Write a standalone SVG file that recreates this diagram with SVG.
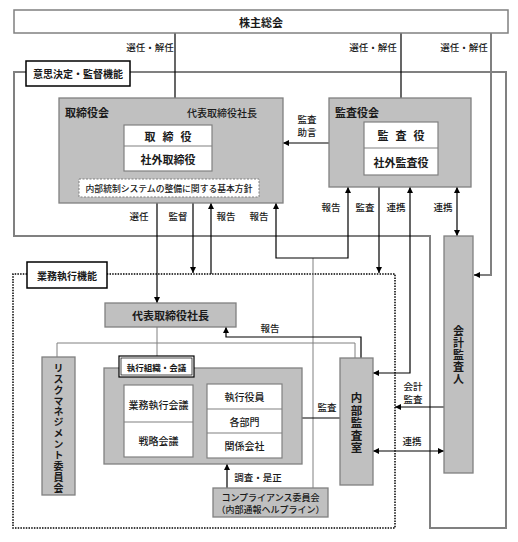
<svg xmlns="http://www.w3.org/2000/svg" width="518" height="542" viewBox="0 0 518 542">
<defs>
<marker id="a" viewBox="0 0 6 6" refX="6" refY="3" markerWidth="6" markerHeight="6" markerUnits="userSpaceOnUse" orient="auto-start-reverse"><path d="M0,0 L6,3 L0,6 z" fill="#000"/></marker>
<style>
text{font-family:"Noto Sans CJK JP","Noto Sans",sans-serif;fill:#1a1a1a;text-anchor:middle;dominant-baseline:central}
.b{font-weight:bold}
.v{writing-mode:vertical-rl;text-orientation:upright}
.lb{font-size:9.5px;font-weight:500}
.g{fill:#c0c0c0;stroke:#808080;stroke-width:1.3}
.w{fill:#fff;stroke:#808080;stroke-width:1.2}
.k{fill:#fff;stroke:#000;stroke-width:1.5}
.c{fill:none;stroke:#000;stroke-width:1.2}
.e{marker-end:url(#a)}
.s{marker-start:url(#a)}
.t{fill:none;stroke:#808080;stroke-width:1}
</style>
</defs>
<rect width="518" height="542" fill="#fff"/>
<g id="frames">
<path d="M26,72 H14 V236 H430 V528 H506 V72 H130" fill="none" stroke="#808080" stroke-width="2"/>
<path d="M27,274 H13 V528 H395 V274 H107" fill="none" stroke="#000" stroke-width="1.5" stroke-dasharray="1.5 1.2"/>
</g>
<g id="connectors">
<path class="c e" d="M175,33 V122"/>
<path class="c e" d="M401,33 V121"/>
<path d="M491,33 V275 H478" fill="none" stroke="#808080" stroke-width="2"/>
<path class="c e" d="M480,275 H474"/>
<path class="c e" d="M329,143 H283"/>
<path class="c e" d="M157,203 V303"/>
<path class="c e" d="M193,203 V273"/>
<path class="c e" d="M211,274 V203"/>
<path class="t" d="M313,488 V258"/>
<path class="c e s" d="M276,203 V258 H348 V187"/>
<path class="c e" d="M379,187 V273"/>
<path class="c e s" d="M410,187 V373 H373"/>
<path class="c e s" d="M457,187 V236"/>
<path class="t" d="M57,357 V343 H355 V358"/>
<path class="t" d="M157,327 V356"/>
<path class="c e" d="M361,358 V337 H226 V327" stroke-width="1"/>
<path class="c e" d="M340,418 H282"/>
<path class="c e" d="M227,488 V464"/>
<path class="c e" d="M444,407 H395"/>
<path class="c e s" d="M373,451 H444"/>
</g>
<g id="labels">
<text class="lb" x="150" y="47">選任・解任</text>
<text class="lb" x="373" y="47">選任・解任</text>
<text class="lb" x="464" y="47">選任・解任</text>
<text class="lb"><tspan x="307" y="119">監査</tspan><tspan x="307" y="132">助言</tspan></text>
<text class="lb" x="139" y="216">選任</text>
<text class="lb" x="178" y="216">監督</text>
<text class="lb" x="226" y="216">報告</text>
<text class="lb" x="259" y="216">報告</text>
<text class="lb" x="331" y="207">報告</text>
<text class="lb" x="365" y="207">監査</text>
<text class="lb" x="396" y="207">連携</text>
<text class="lb" x="443" y="207">連携</text>
<text class="lb" x="270" y="328">報告</text>
<text class="lb" x="327" y="407">監査</text>
<text class="lb"><tspan x="413" y="385.5">会計</tspan><tspan x="413" y="398.5">監査</tspan></text>
<text class="lb" x="412" y="441">連携</text>
<text class="lb" x="258" y="477">調査・是正</text>
</g>
<g id="shareholders">
<rect x="14" y="10" width="494" height="23" fill="#fff" stroke="#808080" stroke-width="1.5"/>
<text class="b" x="261" y="21.5" font-size="11">株主総会</text>
</g>
<g id="decision-label">
<rect class="k" x="26" y="61" width="104" height="25"/>
<text class="b" x="78" y="73.5" font-size="10">意思決定・監督機能</text>
</g>
<g id="board">
<rect class="g" x="59" y="98" width="224" height="105"/>
<text class="b" x="87" y="112" font-size="11">取締役会</text>
<text x="222" y="112" font-size="10" font-weight="500">代表取締役社長</text>
<rect class="w" x="124" y="125" width="88" height="46"/>
<line x1="124" y1="146" x2="212" y2="146" stroke="#808080" stroke-width="1.2"/>
<text class="b" x="150 168 186" y="135.5" font-size="11">取締役</text>
<text class="b" x="168" y="158.5" font-size="11">社外取締役</text>
<rect x="79" y="179" width="180" height="18" fill="#fff" stroke="#808080" stroke-width="1" stroke-dasharray="2 1.5"/>
<text x="169" y="188" font-size="8.8" font-weight="500">内部統制システムの整備に関する基本方針</text>
</g>
<g id="auditors-board">
<rect class="g" x="329" y="98" width="142" height="89"/>
<text class="b" x="357" y="112" font-size="11">監査役会</text>
<rect class="w" x="364" y="122" width="74" height="53"/>
<line x1="364" y1="148" x2="438" y2="148" stroke="#808080" stroke-width="1.2"/>
<text class="b" x="383 401 419" y="135" font-size="11">監査役</text>
<text class="b" x="401" y="161.5" font-size="11">社外監査役</text>
</g>
<g id="accounting-auditor">
<rect class="g" x="444" y="236" width="29" height="237"/>
<text class="b v" x="458.5" y="355.5" font-size="11" letter-spacing="1">会計監査人</text>
</g>
<g id="exec-label">
<rect class="k" x="27" y="262" width="80" height="26"/>
<text class="b" x="67" y="275" font-size="10">業務執行機能</text>
</g>
<g id="president">
<rect class="g" x="105" y="303" width="131" height="24"/>
<text class="b" x="170.5" y="315" font-size="11">代表取締役社長</text>
</g>
<g id="risk-committee">
<rect class="g" x="42" y="357" width="33" height="138"/>
<text class="b v" x="58.5" y="428.5" font-size="10" letter-spacing="0.9">リスクマネジメント委員会</text>
</g>
<g id="exec-org">
<rect class="g" x="104" y="368" width="198" height="96"/>
<rect x="119" y="356" width="75" height="21" fill="#fff" stroke="#000" stroke-width="1.2"/>
<rect x="121" y="358" width="71" height="17" fill="none" stroke="#000" stroke-width="0.7"/>
<text class="b" x="156.5" y="366.5" font-size="8.5">執行組織・会議</text>
<rect class="w" x="124" y="385" width="69" height="72"/>
<line x1="124" y1="422" x2="193" y2="422" stroke="#808080" stroke-width="1.2"/>
<text x="158.5" y="404" font-size="10" font-weight="500">業務執行会議</text>
<text x="158.5" y="440" font-size="10" font-weight="500">戦略会議</text>
<rect class="w" x="207" y="384" width="75" height="74"/>
<line x1="207" y1="409" x2="282" y2="409" stroke="#808080" stroke-width="1.2"/>
<line x1="207" y1="433" x2="282" y2="433" stroke="#808080" stroke-width="1.2"/>
<text x="244.5" y="396.5" font-size="10" font-weight="500">執行役員</text>
<text x="244.5" y="421" font-size="10" font-weight="500">各部門</text>
<text x="244.5" y="445.5" font-size="10" font-weight="500">関係会社</text>
</g>
<g id="internal-audit">
<rect class="g" x="340" y="358" width="33" height="127"/>
<text class="b v" x="356.5" y="423.5" font-size="11.5" letter-spacing="1">内部監査室</text>
</g>
<g id="compliance">
<rect class="g" x="213" y="488" width="115" height="29"/>
<text x="270.5" y="497.5" font-size="9" font-weight="500">コンプライアンス委員会</text>
<text x="270.5" y="509.5" font-size="9" font-weight="500">（内部通報ヘルプライン）</text>
</g>
</svg>
